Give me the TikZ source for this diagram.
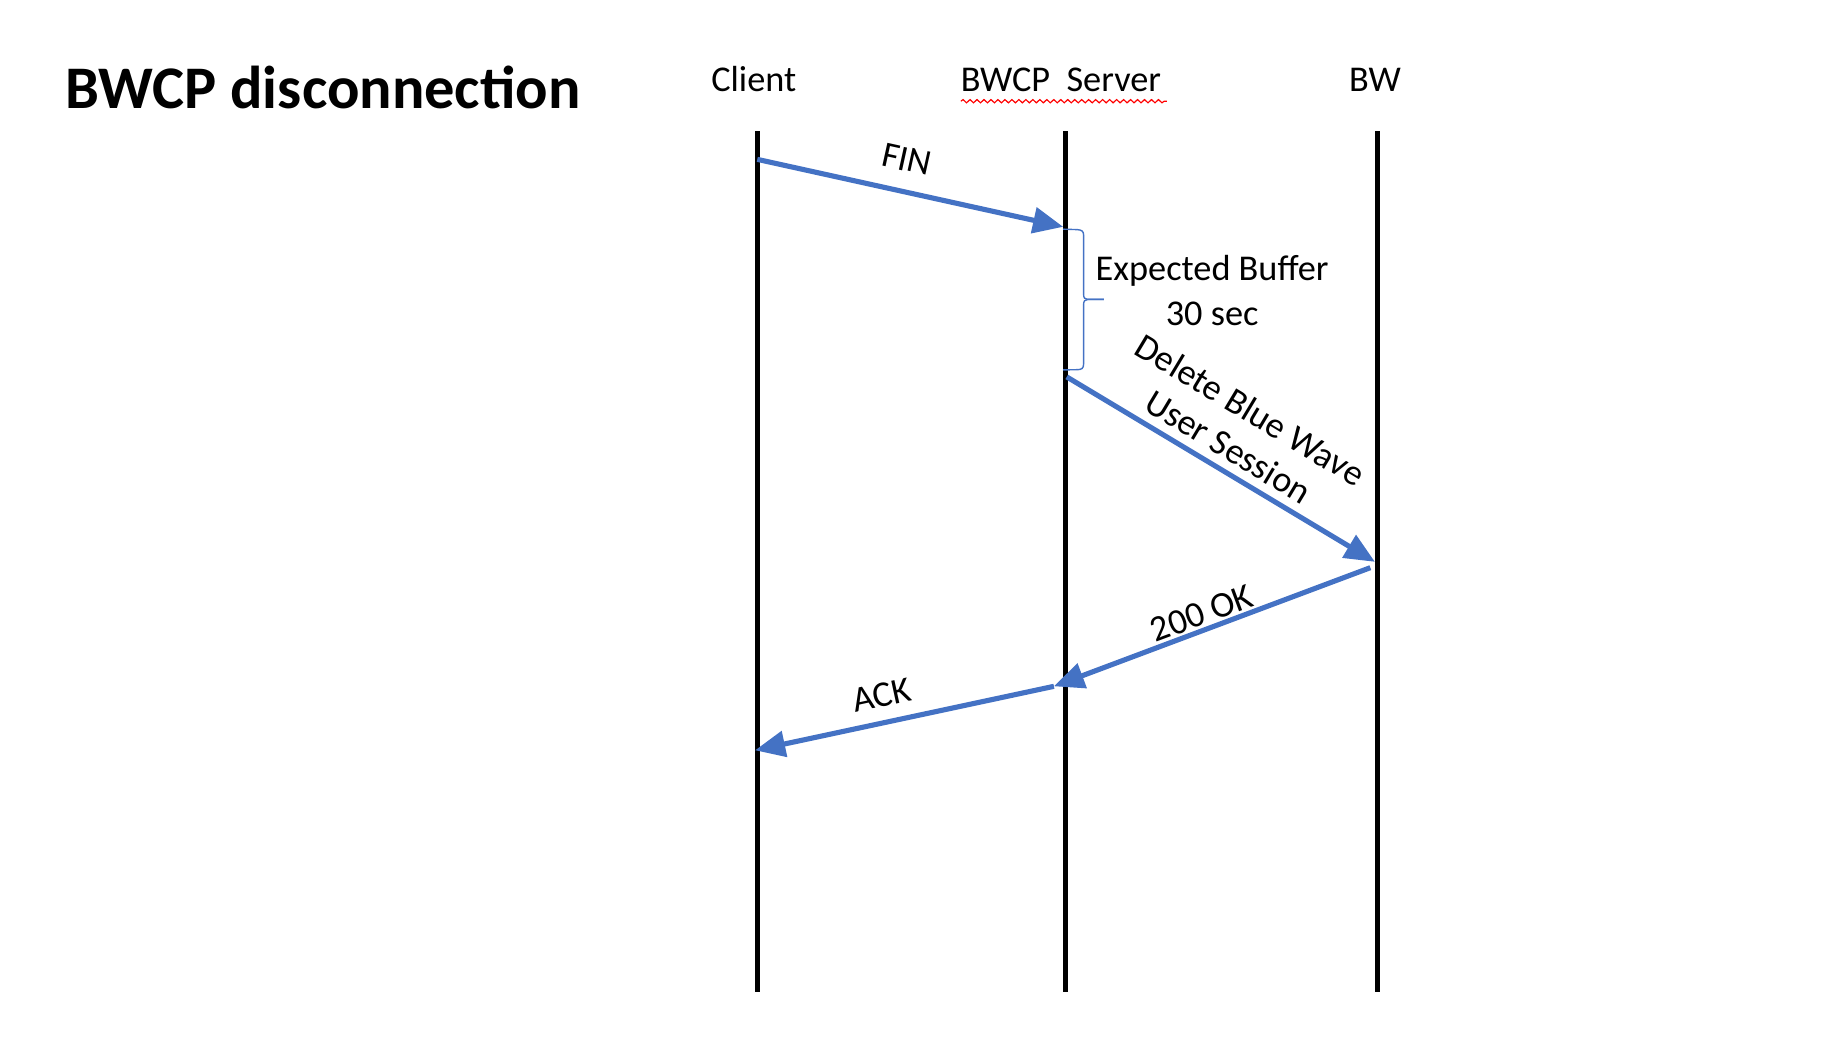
\documentclass[tikz,border=0pt]{standalone}
\usepackage{fontspec}
\setmainfont{Carlito}
\usetikzlibrary{arrows.meta,decorations.pathmorphing}
\definecolor{msgblue}{HTML}{4472C4}
\begin{document}
\begin{tikzpicture}[x=0.5pt, y=-0.5pt,
    lifeline/.style={line width=2.3pt},
    msg/.style={-{Triangle[length=13pt,width=11pt]}, line width=2.2pt, msgblue},
    lbl/.style={font=\fontsize{15.6}{18.4}\selectfont, inner sep=0pt}]
    \useasboundingbox (0,0) rectangle (1568,892);
    \node [anchor=base west, inner sep=0pt, font=\fontsize{26}{30}\selectfont\bfseries] (title) at (56,93) {BWCP disconnection};
    % participants
    \node [lbl, anchor=base] (client) at (648,79) {Client};
    \node [lbl, anchor=base] (server) at (912,79) {BWCP\ \ Server};
    \node [lbl, anchor=base] (bw) at (1182,79) {BW};
    \draw [red, line width=0.5pt, decorate, decoration={snake, amplitude=0.7pt, segment length=3pt}] (826,87) coordinate (sp-a) -- (1003,87) coordinate (sp-b);
    \coordinate (client-top) at (651,113);
    \coordinate (client-bot) at (651,853);
    \coordinate (server-top) at (916,113);
    \coordinate (server-bot) at (916,853);
    \coordinate (bw-top) at (1184,113);
    \coordinate (bw-bot) at (1184,853);
    \draw [lifeline] (client-top) -- (client-bot);
    \draw [lifeline] (server-top) -- (server-bot);
    \draw [lifeline] (bw-top) -- (bw-bot);
    % message end points
    \coordinate (fin-s) at (651,137);
    \coordinate (fin-e) at (914,195);
    \coordinate (buf-s) at (914,197);
    \coordinate (buf-m) at (949,257.4);
    \coordinate (buf-e) at (914,318);
    \coordinate (del-s) at (917,324);
    \coordinate (del-e) at (1182,483);
    \coordinate (ok-s) at (1178,488);
    \coordinate (ok-e) at (906,590);
    \coordinate (ack-e) at (649,645);
    \draw [msg] (fin-s) -- (fin-e);
    \node [lbl, rotate=-12.4] (fin) at (779.5,137) {FIN};
    % buffer brace
    \draw [msgblue, line width=0.6pt] (buf-s) -- (926,197.4) .. controls (930,197.6) and (931.5,199) .. (931.5,202)
        -- (931.5,253) .. controls (931.5,256) and (932.5,257.4) .. (935,257.4) -- (buf-m);
    \draw [msgblue, line width=0.6pt] (buf-m) -- (935,257.4) .. controls (932.5,257.4) and (931.5,259) .. (931.5,262)
        -- (931.5,313) .. controls (931.5,316.5) and (930,317.8) .. (926,317.8) -- (buf-e);
    \node [lbl, anchor=base] (buf) at (1042,241.5) {Expected Buffer};
    \node [lbl, anchor=base] (buf-t) at (1042,279.5) {30 sec};
    \draw [msg] (del-s) -- (del-e);
    \node [lbl, rotate=-31, align=center] (del) at (1065.5,368) {Delete Blue Wave\\User Session};
    \draw [msg] (ok-s) -- (ok-e);
    \node [lbl, rotate=20.4] (ok) at (1033,527) {200 OK};
    \draw [msg] (ok-e) -- (ack-e);
    \node [lbl, rotate=12.2] (ack) at (758,597.5) {ACK};
  \end{tikzpicture}
\end{document}
